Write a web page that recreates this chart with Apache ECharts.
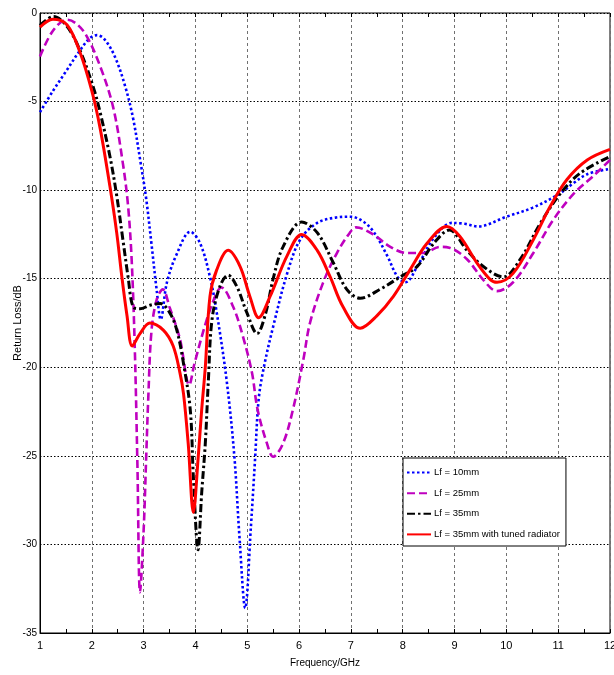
<!DOCTYPE html>
<html>
<head>
<meta charset="utf-8">
<script src="https://cdn.jsdelivr.net/npm/echarts@6/dist/echarts.min.js"></script>
<style>html,body{margin:0;padding:0;background:#fff}#c{width:614px;height:675px}</style>
</head>
<body>
<div id="c"></div>
<script>
var seriesNames = ['Lf = 10mm', 'Lf = 25mm', 'Lf = 35mm', 'Lf = 35mm with tuned radiator'];

var f10 = [1.0, 1.25, 1.5, 1.75, 1.95, 2.1, 2.25, 2.45, 2.65, 2.8, 2.95, 3.05, 3.15, 3.25, 3.33, 3.45, 3.64, 3.9, 4.09, 4.28, 4.41, 4.6, 4.75, 4.85, 4.96, 5.07, 5.15, 5.22, 5.32, 5.5, 5.77, 6.02, 6.35, 6.7, 7.0, 7.25, 7.45, 7.7, 7.9, 8.05, 8.3, 8.6, 8.95, 9.2, 9.45, 10.0, 10.5, 11.0, 11.3, 11.56, 12.0];
var v10 = [-5.6, -4.4, -3.3, -2.2, -1.45, -1.25, -1.5, -2.5, -4.2, -6.0, -8.6, -10.5, -13.0, -15.6, -17.3, -15.2, -13.6, -12.35, -13.0, -14.9, -16.9, -20.7, -25.0, -29.6, -33.6, -29.0, -25.2, -21.8, -20.0, -17.7, -14.7, -12.8, -11.85, -11.55, -11.5, -11.8, -12.4, -13.7, -14.9, -15.2, -14.2, -12.7, -11.85, -11.9, -12.05, -11.5, -11.0, -10.25, -9.6, -9.1, -8.8];

var f25 = [1.0, 1.25, 1.52, 1.7, 1.9, 2.16, 2.41, 2.6, 2.7, 2.77, 2.83, 2.88, 2.93, 3.0, 3.05, 3.09, 3.15, 3.25, 3.37, 3.5, 3.7, 3.88, 3.98, 4.22, 4.41, 4.5, 4.73, 4.92, 5.09, 5.2, 5.38, 5.5, 5.69, 5.88, 6.08, 6.21, 6.46, 6.73, 6.98, 7.1, 7.43, 7.76, 8.08, 8.4, 8.72, 8.9, 9.24, 9.55, 9.82, 10.13, 10.52, 10.9, 11.3, 11.68, 12.0];
var v25 = [-2.45, -1.0, -0.38, -0.6, -1.3, -3.0, -5.3, -8.5, -10.9, -14.0, -19.0, -25.5, -32.7, -29.2, -25.0, -21.7, -18.0, -16.2, -15.6, -16.6, -18.4, -21.0, -19.8, -17.3, -15.8, -15.5, -16.6, -18.3, -20.3, -22.4, -24.3, -25.05, -24.3, -22.4, -19.6, -17.5, -15.25, -13.55, -12.4, -12.1, -12.5, -13.2, -13.55, -13.55, -13.2, -13.25, -13.9, -15.05, -15.7, -15.2, -13.55, -11.7, -10.2, -9.2, -8.3];

var f35 = [1.0, 1.26, 1.52, 1.77, 2.03, 2.16, 2.35, 2.48, 2.6, 2.7, 2.8, 2.93, 3.12, 3.32, 3.5, 3.64, 3.77, 3.9, 3.96, 4.05, 4.12, 4.19, 4.25, 4.32, 4.47, 4.63, 4.8, 4.99, 5.19, 5.35, 5.5, 5.69, 6.05, 6.35, 6.66, 6.92, 7.18, 7.56, 7.95, 8.28, 8.6, 8.9, 9.24, 9.55, 9.94, 10.27, 10.65, 11.04, 11.42, 12.0];
var v35 = [-0.7, -0.2, -0.75, -2.1, -4.2, -5.6, -8.1, -10.3, -12.8, -14.9, -16.6, -16.7, -16.5, -16.4, -16.9, -17.9, -19.8, -22.4, -26.2, -30.3, -27.1, -24.3, -20.7, -17.3, -15.45, -14.8, -15.45, -16.9, -18.1, -17.0, -15.0, -13.2, -11.8, -12.4, -14.1, -15.6, -16.1, -15.6, -14.9, -14.3, -13.0, -12.25, -13.4, -14.3, -14.9, -13.9, -11.9, -10.2, -9.05, -8.1];

var fTuned = [1.0, 1.25, 1.52, 1.77, 2.0, 2.16, 2.35, 2.48, 2.58, 2.68, 2.78, 2.93, 3.12, 3.38, 3.57, 3.7, 3.77, 3.86, 3.96, 4.05, 4.12, 4.19, 4.28, 4.41, 4.63, 4.86, 5.05, 5.22, 5.44, 5.77, 6.05, 6.35, 6.6, 6.85, 7.18, 7.5, 7.82, 8.14, 8.47, 8.85, 9.1, 9.43, 9.69, 9.82, 10.13, 10.52, 10.85, 11.17, 11.56, 12.0];
var vTuned = [-0.8, -0.35, -0.66, -2.2, -4.4, -6.5, -9.8, -12.4, -14.9, -17.1, -18.8, -18.1, -17.5, -17.9, -18.8, -20.3, -21.5, -24.3, -28.2, -25.2, -22.4, -20.0, -16.0, -14.5, -13.4, -14.3, -16.0, -17.2, -16.0, -13.7, -12.5, -13.4, -14.9, -16.6, -17.8, -17.1, -16.0, -14.5, -13.0, -12.05, -12.6, -14.1, -15.05, -15.2, -14.7, -12.8, -10.9, -9.4, -8.3, -7.7];

var xTicks = [1, 2, 3, 4, 5, 6, 7, 8, 9, 10, 11, 12];
var yTicks = [-35, -30, -25, -20, -15, -10, -5, 0];

function zip(a, b) { return a.map(function (x, i) { return [x, b[i]]; }); }

var FONT = "'Liberation Sans Narrow', 'Liberation Sans', Arial, sans-serif";
var chart = echarts.init(document.getElementById('c'), null, { renderer: 'canvas' });

var lineStyles = [
  { color: '#0000ff', width: 2.6, type: [2.5, 2.5] },
  { color: '#bf00bf', width: 2.6, type: [8, 4] },
  { color: '#000000', width: 3, type: [8, 3, 2.5, 3] },
  { color: '#ff0000', width: 3, type: 'solid' }
];
var datas = [zip(f10, v10), zip(f25, v25), zip(f35, v35), zip(fTuned, vTuned)];

chart.setOption({
  animation: false,
  backgroundColor: '#ffffff',
  grid: { left: 40, right: 4, top: 13, bottom: 42, containLabel: false, outerBoundsMode: 'none',
    show: true, borderColor: '#000', borderWidth: 1, backgroundColor: 'transparent' },
  legend: {
    orient: 'vertical', left: 403, top: 458,
    itemWidth: 24, itemHeight: 14, itemGap: 9.4,
    padding: [9, 6, 6, 3],
    backgroundColor: '#fff', borderColor: '#000', borderWidth: 1,
    itemStyle: { opacity: 0 },
    textStyle: { fontFamily: FONT, fontSize: 9.5, color: '#000', padding: [0, 0, 0, -2] },
    data: seriesNames
  },
  xAxis: [{
    type: 'value', min: 1, max: 12, interval: 1,
    name: 'Frequency/GHz', nameLocation: 'middle', nameGap: 25, nameMoveOverlap: false,
    nameTextStyle: { fontFamily: FONT, fontSize: 10, color: '#000' },
    axisLine: { show: true, onZero: false, lineStyle: { color: '#000', width: 1 } },
    axisTick: { show: true, inside: true, length: 4, lineStyle: { color: '#000' } },
    minorTick: { show: true, splitNumber: 2, length: 4, lineStyle: { color: '#000' } },
    axisLabel: { fontFamily: FONT, fontSize: 11, color: '#000', margin: 7,
      formatter: function (v) { return xTicks.indexOf(v) >= 0 ? String(v) : ''; } },
    splitLine: { show: true, lineStyle: { color: '#707070', width: 1, type: [3, 3] } }
  }, {
    type: 'value', min: 1, max: 12, interval: 1, position: 'top',
    axisLine: { show: false },
    axisTick: { show: true, inside: true, length: 4, lineStyle: { color: '#000' } },
    minorTick: { show: true, splitNumber: 2, length: 4, lineStyle: { color: '#000' } },
    axisLabel: { show: false }, splitLine: { show: false }
  }],
  yAxis: [{
    type: 'value', min: -35, max: 0, interval: 5,
    name: 'Return Loss/dB', nameLocation: 'middle', nameGap: 17, nameMoveOverlap: false,
    nameTextStyle: { fontFamily: "'Liberation Sans', Arial, sans-serif", fontSize: 11, color: '#000' },
    axisLine: { show: true, onZero: false, lineStyle: { color: '#000', width: 1 } },
    axisTick: { show: false },
    axisLabel: { fontFamily: FONT, fontSize: 10, color: '#000', margin: 3,
      formatter: function (v) { return yTicks.indexOf(v) >= 0 ? String(v) : ''; } },
    splitLine: { show: true, lineStyle: { color: '#000', width: 1, type: [1.5, 2] } }
  }],
  series: seriesNames.map(function (n, i) {
    return {
      name: n, type: 'line', xAxisIndex: 0, yAxisIndex: 0,
      data: datas[i], showSymbol: false, symbol: 'none', smooth: 0.35,
      lineStyle: lineStyles[i], itemStyle: { color: lineStyles[i].color },
      z: 2 + i
    };
  })
});
</script>
</body>
</html>
